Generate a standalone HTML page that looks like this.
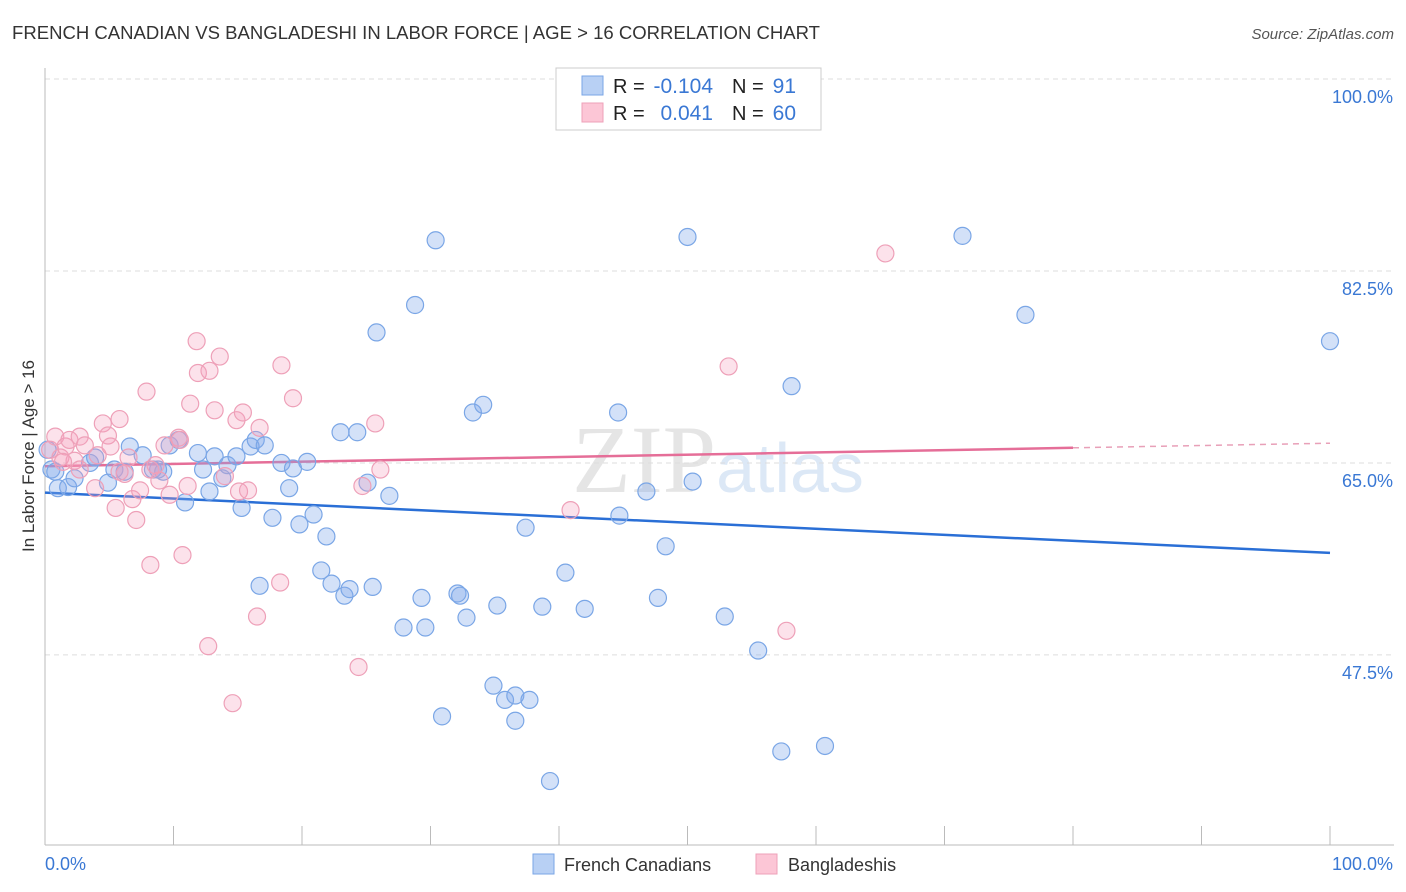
<!DOCTYPE html>
<html><head><meta charset="utf-8"><style>
body{margin:0;background:#fff;font-family:"Liberation Sans",sans-serif;}
svg{display:block}
</style></head><body>
<svg id="chart" width="1406" height="892">
<text x="12" y="39" font-size="18" fill="#333" textLength="808" lengthAdjust="spacingAndGlyphs">FRENCH CANADIAN VS BANGLADESHI IN LABOR FORCE | AGE &gt; 16 CORRELATION CHART</text>
<text x="1394" y="39" font-size="15" fill="#555" font-style="italic" text-anchor="end">Source: ZipAtlas.com</text>
<text x="718" y="492" font-size="96" fill="#e5e5e5" text-anchor="middle" font-family="Liberation Serif,serif">ZIP<tspan fill="#dce8f6" font-family="Liberation Sans,sans-serif" font-size="70">atlas</tspan></text>
<g id="grid"></g><g id="axes"></g><g id="trends"></g><g id="pts"></g>
<text transform="translate(34,456) rotate(-90)" font-size="17" fill="#333" text-anchor="middle">In Labor Force | Age &gt; 16</text>
<g>
<rect x="556" y="68" width="265" height="62" fill="#fff" stroke="#ccc"/>
<rect x="582" y="76" width="21" height="19" fill="#b8d0f4" stroke="#7aa6e6"/>
<rect x="582" y="103" width="21" height="19" fill="#fcc6d6" stroke="#eea0b8"/>
<text x="613" y="93" font-size="20" fill="#222">R =</text>
<text x="713" y="93" font-size="21" fill="#3a78d4" text-anchor="end">-0.104</text>
<text x="732" y="93" font-size="20" fill="#222">N =</text>
<text x="796" y="93" font-size="21" fill="#3a78d4" text-anchor="end">91</text>
<text x="613" y="120" font-size="20" fill="#222">R =</text>
<text x="713" y="120" font-size="21" fill="#3a78d4" text-anchor="end">0.041</text>
<text x="732" y="120" font-size="20" fill="#222">N =</text>
<text x="796" y="120" font-size="21" fill="#3a78d4" text-anchor="end">60</text>
</g>
<g>
<rect x="533" y="854" width="21" height="20" fill="#b8d0f4" stroke="#7aa6e6"/>
<text x="564" y="871" font-size="18" fill="#333">French Canadians</text>
<rect x="756" y="854" width="21" height="20" fill="#fcc6d6" stroke="#eea0b8"/>
<text x="788" y="871" font-size="18" fill="#333">Bangladeshis</text>
</g>
</svg>
<script>
const yTicks=[100,82.5,65,47.5];
const yTickLabels=["100.0%","82.5%","65.0%","47.5%"];
const xTickCount=10;
const blueX=[0.5,1.0,1.8,2.3,3.5,3.9,4.9,5.4,6.2,6.6,7.6,8.4,8.8,9.2,9.7,10.4,10.9,11.9,12.3,12.8,13.2,13.8,14.2,14.9,15.3,16.0,16.4,17.1,16.7,17.7,18.4,19.0,19.3,19.8,20.4,20.9,21.5,21.9,22.3,23.0,23.3,23.7,24.3,25.1,25.5,25.8,26.8,27.9,28.8,29.3,29.6,30.4,30.9,32.1,32.3,32.8,33.3,34.1,34.9,35.2,35.8,36.6,36.6,37.4,37.7,38.7,39.3,40.5,42.0,44.6,44.7,46.8,47.7,48.3,50.0,50.4,52.9,55.5,57.3,58.1,60.7,71.4,76.3,100,0.2,0.8];
const blueY=[64.4,62.7,62.8,63.6,65.0,65.5,63.2,64.4,64.2,66.5,65.7,64.4,64.4,64.2,66.6,67.1,61.4,65.9,64.4,62.4,65.6,63.6,64.8,65.6,60.9,66.5,67.1,66.6,53.8,60.0,65.0,62.7,64.5,59.4,65.1,60.3,55.2,58.3,54.0,67.8,52.9,53.5,67.8,63.2,53.7,76.9,62.0,50.0,79.4,52.7,50.0,85.3,41.9,53.1,52.9,50.9,69.6,70.3,44.7,52.0,43.4,43.8,41.5,59.1,43.4,51.9,36.0,55.0,51.7,69.6,60.2,62.4,52.7,57.4,85.6,63.3,51.0,47.9,38.7,72.0,39.2,85.7,78.5,76.1,66.2,64.2];
const pinkX=[0.4,0.8,1.2,1.6,1.9,2.3,2.7,3.1,3.9,4.1,4.5,4.9,5.1,5.5,5.8,6.2,6.5,6.8,7.1,7.4,7.9,8.2,8.6,8.9,9.3,9.7,10.4,10.7,11.1,11.3,11.8,11.9,12.7,12.8,13.2,13.6,14.0,14.6,14.9,15.1,15.4,15.8,16.5,16.7,18.3,18.4,19.3,24.4,24.7,25.7,26.1,40.9,53.2,57.7,65.4,2.7,8.2,1.4,5.8,10.5];
const pinkY=[66.2,67.4,65.5,66.5,67.1,65.2,67.4,66.6,62.7,65.7,68.6,67.5,66.5,60.9,69.0,64.0,65.5,61.7,59.8,62.5,71.5,55.7,64.8,63.4,66.6,62.1,67.3,56.6,62.9,70.4,76.1,73.2,48.3,73.4,69.8,74.7,63.8,43.1,68.9,62.4,69.6,62.5,51.0,68.2,54.1,73.9,70.9,46.4,62.9,68.6,64.4,60.7,73.8,49.7,84.1,64.4,64.4,65.1,64.2,67.1];
const blueTrend=[62.3,56.8];
const pinkTrend=[64.7,66.8];
const pinkSolidEnd=80;
const X=v=>45+v*12.85, Y=v=>79+(100-v)*10.97;
const NS="http://www.w3.org/2000/svg";
function mk(t,a,p){const e=document.createElementNS(NS,t);for(const k in a)e.setAttribute(k,a[k]);document.getElementById(p).appendChild(e);return e;}
yTicks.forEach((t,i)=>{
 const l=mk('line',{x1:45,x2:1394,y1:Y(t),y2:Y(t),stroke:'#ddd','stroke-dasharray':'5,4'},'grid');
 
 
 const tx=mk('text',{x:1393,y:Y(t)+24,'font-size':18,fill:'#3a78d4','text-anchor':'end'},'grid');tx.textContent=yTickLabels[i];
 
 
});
const ax=mk('line',{x1:45,x2:45,y1:68,y2:845,stroke:'#bbb'},'axes');


const bx=mk('line',{x1:45,x2:1394,y1:845,y2:845,stroke:'#bbb'},'axes');


for(let i=0;i<=xTickCount;i++){const t=mk('line',{x1:X(i*10),x2:X(i*10),y1:826,y2:845,stroke:'#bbb'},'axes');
 
 }
[["0.0%",45,'start'],["100.0%",1393,'end']].forEach(d=>{const t=mk('text',{x:d[1],y:870,'font-size':18,fill:'#3a78d4','text-anchor':d[2]},'axes');t.textContent=d[0];
 
 });
function dot(x,y,f,s,n){const c=mk('circle',{cx:X(x),cy:Y(y),r:8.5,fill:f,stroke:s,'stroke-width':1.2},'pts');
 
 }
blueX.forEach((x,i)=>dot(x,blueY[i],'rgba(130,170,235,0.35)','#7aa6e6','french-canadian-point'));
pinkX.forEach((x,i)=>dot(x,pinkY[i],'rgba(245,160,190,0.3)','#eea0b8','bangladeshi-point'));
const bt=mk('line',{x1:X(0),y1:Y(blueTrend[0]),x2:X(100),y2:Y(blueTrend[1]),stroke:'#2a6fd6','stroke-width':2.5},'trends');


const pm=pinkTrend[0]+(pinkTrend[1]-pinkTrend[0])*pinkSolidEnd/100;
const pt=mk('line',{x1:X(0),y1:Y(pinkTrend[0]),x2:X(pinkSolidEnd),y2:Y(pm),stroke:'#e56e98','stroke-width':2.5},'trends');


const pd=mk('line',{x1:X(pinkSolidEnd),y1:Y(pm),x2:X(100),y2:Y(pinkTrend[1]),stroke:'#e8a0b8','stroke-width':1.5,'stroke-dasharray':'6,5'},'trends');


</script>
</body></html>
